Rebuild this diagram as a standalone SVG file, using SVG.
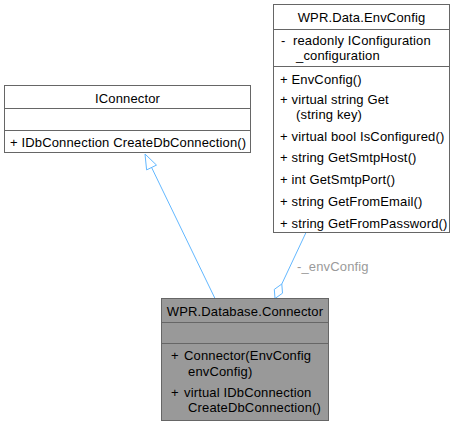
<svg xmlns="http://www.w3.org/2000/svg" width="456" height="427" viewBox="0 0 456 427">
<style>
text{font-family:"Liberation Sans",Arial,sans-serif;font-size:13px;fill:#000;letter-spacing:0.15px}
.box{fill:#fff;stroke:#666;stroke-width:1}
.cur{fill:#999;stroke:#666;stroke-width:1}
.sep{stroke:#666;stroke-width:1}
.edge{fill:none;stroke:#63b8ff;stroke-width:1}
.head{fill:#fff;stroke:#63b8ff;stroke-width:1}
.lbl{fill:#9a9a9a}
.c{text-anchor:middle}
</style>
<rect width="456" height="427" fill="#fff"/>
<g id="connectors">
<path class="edge" d="M215,298.5 L151.6,167.5"/>
<polygon class="head" points="145,154 156.5,165.1 146.6,169.9"/>
<path class="edge" d="M306,232.5 L281.8,284"/>
<polygon class="head" points="275,298.5 282.5,293.2 281.8,284 274.3,289.4"/>
<text class="lbl" x="297" y="271">-_envConfig</text>
</g>
<g id="node-envconfig">
<rect class="box" x="273.5" y="4.5" width="176" height="228"/>
<line class="sep" x1="273.5" y1="29.5" x2="449.5" y2="29.5"/>
<line class="sep" x1="273.5" y1="66.5" x2="449.5" y2="66.5"/>
<text class="c" x="361.5" y="22">WPR.Data.EnvConfig</text>
<text x="281" y="44.5">-</text>
<text x="293" y="44.5">readonly IConfiguration</text>
<text x="296" y="59.5">_configuration</text>
<text x="280" y="83.5">+ EnvConfig()</text>
<text x="280" y="103.5">+ virtual string Get</text>
<text x="296" y="118.5">(string key)</text>
<text x="280" y="140.5">+ virtual bool IsConfigured()</text>
<text x="280" y="161.5">+ string GetSmtpHost()</text>
<text x="280" y="184">+ int GetSmtpPort()</text>
<text x="280" y="206">+ string GetFromEmail()</text>
<text x="280" y="227.5">+ string GetFromPassword()</text>
</g>
<g id="node-iconnector">
<rect class="box" x="4.5" y="85.5" width="246" height="67"/>
<line class="sep" x1="4.5" y1="108.5" x2="250.5" y2="108.5"/>
<line class="sep" x1="4.5" y1="130.5" x2="250.5" y2="130.5"/>
<text class="c" x="127.5" y="102.5">IConnector</text>
<text x="10" y="146.5">+ IDbConnection CreateDbConnection()</text>
</g>
<g id="node-connector">
<rect class="cur" x="161.5" y="298.5" width="167" height="122"/>
<line class="sep" x1="161.5" y1="322.5" x2="328.5" y2="322.5"/>
<line class="sep" x1="161.5" y1="343.5" x2="328.5" y2="343.5"/>
<text class="c" x="245" y="315.5">WPR.Database.Connector</text>
<text x="171" y="359.5">+</text>
<text x="184" y="359.5">Connector(EnvConfig</text>
<text x="188" y="375.5">envConfig)</text>
<text x="171" y="396.5">+</text>
<text x="184" y="396.5">virtual IDbConnection</text>
<text x="188" y="411.5">CreateDbConnection()</text>
</g>
</svg>
